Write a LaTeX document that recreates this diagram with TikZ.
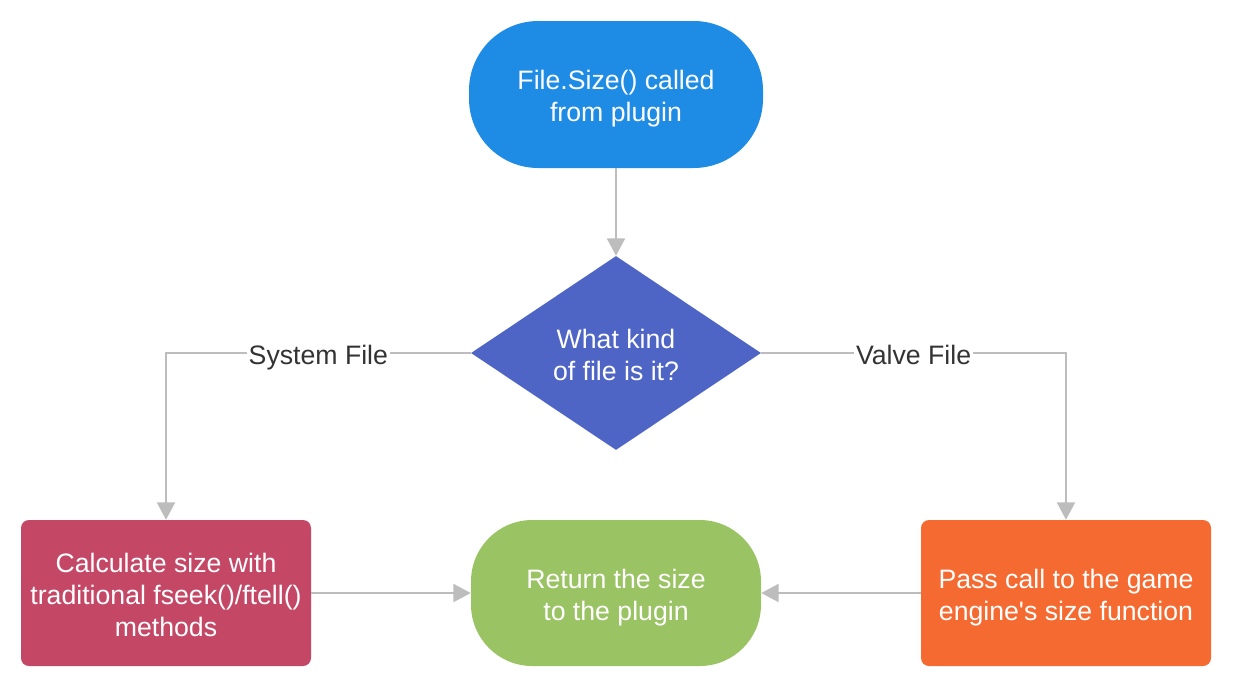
\documentclass[tikz,border=0pt]{standalone}
\usepackage{fontspec}
\setmainfont{Liberation Sans}
\usetikzlibrary{positioning,shapes.geometric,arrows.meta}
\definecolor{startblue}{HTML}{1E8BE4}
\definecolor{askblue}{HTML}{4F65C6}
\definecolor{sysred}{HTML}{C44766}
\definecolor{valveorange}{HTML}{F46A30}
\definecolor{endgreen}{HTML}{9AC363}
\definecolor{linegray}{HTML}{BDBDBD}
\definecolor{labelgray}{HTML}{333333}
% struts that even out the text in the shapes
\newcommand\uptop{\rule{0pt}{21.6pt}}
\newcommand\downbot{\rule[-5pt]{0pt}{5pt}}
\tikzset{
  txt/.style={font=\fontsize{20}{24}\selectfont},
  box/.style={txt, draw=none, text=white, align=center, inner sep=0pt,
    minimum width=217.5pt, minimum height=109.5pt},
  term/.style={box, rounded corners=46pt},
  proc/.style={box, rounded corners=6pt},
  ask/.style={box, diamond, minimum height=145.5pt},
  flow/.style={draw=linegray, line width=1.5pt,
    -{Triangle[length=13pt, width=13.5pt]}},
  tag/.style={txt, fill=white, text=labelgray, inner xsep=1.5pt, inner ysep=0pt}
}

\begin{document}
\begin{tikzpicture}[x=0.75pt, y=-0.75pt]
  \useasboundingbox (0,0) rectangle (1234,687);

  \node (start) [term, fill=startblue, minimum width=220.5pt, minimum height=110.25pt,
    rounded corners=52pt] at (616,94.5) {\uptop File.Size() called\\from plugin\downbot};
  \node (kind) [ask, fill=askblue] at (616,353) {\uptop What kind\\of file is it?\downbot};
  \node (sys) [proc, fill=sysred] at (166,593)
    {\uptop Calculate size with\\traditional fseek()/ftell()\\methods\downbot};
  \node (ret) [term, fill=endgreen] at (616,593) {\uptop Return the size\\to the plugin\downbot};
  \node (valve) [proc, fill=valveorange] at (1066,593)
    {\uptop Pass call to the game\\engine\textquotesingle s size function\downbot};

  \draw [flow] (start) -- (kind);
  \draw [flow] (kind.west) -| node [tag, pos=0.25] {\uptop System File\downbot} (sys.north);
  \draw [flow] (kind.east) -| node [tag, pos=0.25] {\uptop Valve File\downbot} (valve.north);
  \draw [flow] (sys) -- (ret);
  \draw [flow] (valve) -- (ret);
\end{tikzpicture}
\end{document}
